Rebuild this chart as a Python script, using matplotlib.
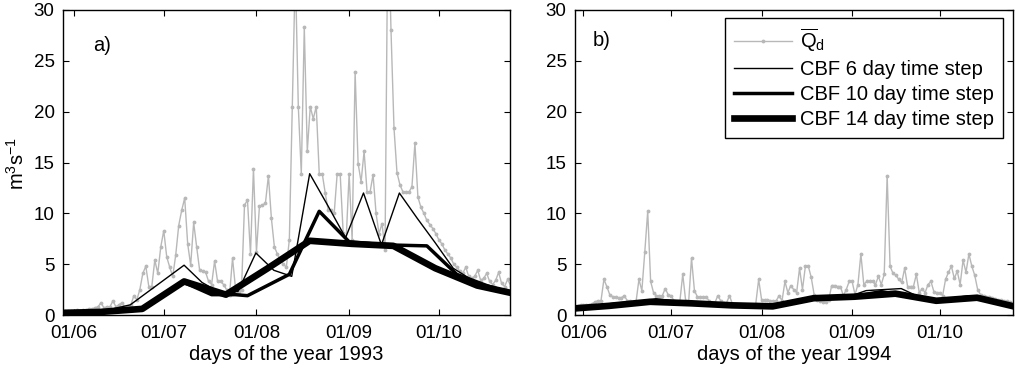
import numpy as np
import matplotlib
matplotlib.use("Agg")
import matplotlib.pyplot as plt
from matplotlib.lines import Line2D

plt.rcParams['font.family'] = ['Liberation Sans', 'DejaVu Sans']
plt.rcParams['mathtext.default'] = 'regular'

# ---------------- data ----------------
days = np.arange(149, 299)  # day of year

qd_1993 = [0.4, 0.4, 0.4, 0.4, 0.5, 0.4, 0.5, 0.5, 0.6, 0.6,
           0.7, 0.8, 1.2, 0.7, 0.8, 0.8, 1.4, 0.8, 1.0, 1.2,
           0.8, 0.8, 1.0, 1.9, 1.5, 2.5, 4.1, 4.8, 2.8, 2.8,
           5.4, 4.1, 6.7, 8.3, 5.7, 4.7, 3.8, 5.9, 8.8, 10.3,
           11.5, 7.0, 4.9, 9.1, 6.7, 4.4, 4.3, 4.2, 3.3, 3.0,
           5.3, 3.3, 3.3, 3.0, 2.5, 2.0, 5.6, 2.6, 2.3, 2.5,
           10.8, 11.3, 6.0, 14.4, 6.2, 10.7, 10.8, 11.0, 13.7, 9.5,
           6.7, 6.0, 5.4, 5.0, 4.7, 7.4, 20.5, 34.0, 20.5, 13.9,
           28.3, 16.1, 20.5, 19.3, 20.5, 13.9, 13.9, 12.0, 10.3, 10.3,
           10.0, 13.9, 13.9, 8.1, 7.4, 13.9, 7.4, 23.9, 14.9, 13.1,
           16.1, 12.1, 12.1, 13.8, 10.0, 8.0, 9.0, 6.4, 40.0, 28.0,
           18.4, 14.0, 12.8, 12.1, 12.1, 12.1, 12.6, 16.9, 11.6, 10.6,
           10.0, 9.3, 8.9, 8.5, 8.0, 7.4, 7.0, 6.4, 6.0, 5.6,
           5.0, 4.7, 4.3, 4.1, 4.7, 3.8, 3.6, 3.8, 4.4, 3.4,
           3.6, 4.1, 3.3, 3.0, 3.4, 4.2, 3.1, 2.8, 3.5, 2.9]

qd_1994 = [0.9, 0.9, 1.0, 1.0, 1.0, 1.0, 1.1, 1.3, 1.4, 1.4,
           3.5, 2.8, 2.0, 1.8, 1.8, 1.7, 1.7, 1.9, 1.4, 1.4,
           1.3, 1.3, 3.5, 2.4, 6.2, 10.2, 3.3, 2.2, 1.9, 1.9,
           1.9, 2.6, 2.0, 1.9, 1.4, 1.3, 1.3, 4.0, 1.4, 1.2,
           5.6, 2.4, 1.8, 1.8, 1.8, 1.8, 1.4, 1.2, 1.2, 1.9,
           1.4, 1.2, 1.2, 1.9, 1.1, 1.0, 1.0, 1.0, 1.0, 1.0,
           1.0, 1.0, 1.1, 3.5, 1.5, 1.5, 1.5, 1.4, 1.4, 1.4,
           1.9, 1.4, 3.3, 2.2, 2.9, 2.5, 2.2, 4.6, 2.5, 4.8,
           4.8, 3.7, 2.0, 1.5, 1.4, 1.3, 1.3, 1.5, 2.9, 2.9,
           2.8, 2.8, 1.9, 2.5, 3.3, 3.3, 2.0, 3.0, 6.0, 3.0,
           3.3, 3.3, 3.3, 3.0, 3.8, 3.0, 4.0, 13.7, 4.8, 4.1,
           3.9, 3.5, 3.2, 4.6, 2.8, 2.8, 2.8, 4.0, 2.2, 2.6,
           2.2, 3.0, 3.3, 2.3, 2.2, 2.2, 1.9, 3.5, 4.2, 4.8,
           3.6, 4.3, 3.0, 5.4, 4.2, 6.0, 4.8, 3.9, 2.5, 2.0,
           1.9, 1.8, 1.8, 1.7, 1.6, 1.5, 1.5, 1.4, 1.4, 1.3]

# CBF 6 day time step
cbf6_days = [146.8, 152.8, 158.8, 164.8, 170.8, 176.8, 182.8, 188.8, 194.8,
             200.8, 206.8, 212.8, 218.8, 224.8, 230.8, 236.8, 242.8, 248.8,
             254.8, 260.8, 266.8, 272.8, 278.8, 284.8, 290.8, 296.8, 302.8]
cbf6_1993 = [0.2, 0.3, 0.4, 0.6, 1.0, 2.3, 3.6, 4.9, 3.2,
             2.2, 2.3, 6.1, 4.4, 3.8, 13.9, 10.8, 7.6, 12.0,
             6.9, 12.0, 9.5, 7.1, 4.6, 3.5, 2.8, 2.2, 1.8]
cbf6_1994 = [0.6, 0.8, 1.0, 1.1, 1.3, 1.6, 1.4, 1.2, 1.1,
             1.0, 0.9, 0.85, 1.0, 1.5, 1.8, 1.8, 1.8, 2.4,
             2.5, 2.6, 1.8, 1.5, 1.5, 1.7, 1.4, 0.9, 0.6]

# CBF 10 day time step
cbf10_days_1993 = [146, 164, 174, 188.8, 198, 206, 210, 224, 234, 244, 256, 270, 280, 290, 300]
cbf10_1993 = [0.15, 0.3, 0.5, 3.2, 2.0, 2.0, 1.9, 4.0, 10.2, 7.2, 6.9, 6.8, 4.0, 2.9, 2.0]
cbf10_days_1994 = [144, 154, 164, 174, 184, 194, 204, 214, 224, 234, 244, 254, 264, 274, 284, 294, 304]
cbf10_1994 = [0.6, 0.8, 1.1, 1.3, 1.3, 1.1, 0.95, 0.85, 1.2, 1.75, 1.8, 2.3, 1.8, 1.4, 1.8, 1.2, 0.7]

# CBF 14 day time step
cbf14_days = [146.8, 160.8, 174.8, 188.8, 202.8, 216.8, 230.8, 244.8, 258.8, 272.8, 286.8, 300.8]
cbf14_1993 = [0.2, 0.3, 0.6, 3.3, 2.0, 4.6, 7.3, 7.0, 6.8, 4.6, 2.9, 2.0]
cbf14_1994 = [0.6, 0.9, 1.3, 1.15, 0.95, 0.85, 1.65, 1.8, 2.1, 1.4, 1.7, 0.75]

tick_days = [152, 182, 213, 244, 274]
tick_labels = ['01/06', '01/07', '01/08', '01/09', '01/10']
yticks = [0, 5, 10, 15, 20, 25, 30]

# ---------------- figure ----------------
W, H = 1019, 371
fig = plt.figure(figsize=(W / 100, H / 100), dpi=100)
ax1 = fig.add_axes([63 / W, 1 - 315 / H, (510 - 63) / W, 305 / H])
ax2 = fig.add_axes([575 / W, 1 - 315 / H, (1013 - 575) / W, 305 / H])

gray = '0.72'
fs_tick = 13.5
fs_lab = 14.5


def draw(ax, qd, c6, d10, c10, c14, year, xlim):
    ax.plot(days, qd, color=gray, lw=1.0, marker='.', ms=3.5, zorder=2)
    ax.plot(cbf14_days, c14, color='black', lw=4.8, zorder=3)
    ax.plot(d10, c10, color='black', lw=2.5, zorder=4)
    ax.plot(cbf6_days, c6, color='black', lw=1.0, zorder=5)
    ax.set_xlim(*xlim)
    ax.set_ylim(0, 30)
    ax.set_xticks(tick_days)
    ax.set_xticklabels(tick_labels)
    ax.set_yticks(yticks)
    ax.tick_params(direction='in', top=True, right=True, length=4, width=0.8,
                   labelsize=fs_tick)
    ax.tick_params(axis='x', pad=7.5)
    ax.tick_params(axis='y', pad=6)
    for s in ax.spines.values():
        s.set_linewidth(1.0)
    ax.set_xlabel('days of the year %d' % year, fontsize=fs_lab, labelpad=2)


draw(ax1, qd_1993, cbf6_1993, cbf10_days_1993, cbf10_1993, cbf14_1993, 1993, (148.3, 297.8))
draw(ax2, qd_1994, cbf6_1994, cbf10_days_1994, cbf10_1994, cbf14_1994, 1994, (149.1, 299.1))

ax1.text(0.067, 0.884, 'a)', transform=ax1.transAxes, fontsize=fs_lab, va='center', ha='left')
ax2.text(0.041, 0.900, 'b)', transform=ax2.transAxes, fontsize=fs_lab, va='center', ha='left')

fig.text(17 / W, 1 - 163 / H, 'm$^3$s$^{-1}$', rotation=90, fontsize=fs_lab,
         ha='center', va='center')

handles = [
    Line2D([], [], color=gray, lw=1.0, marker='.', ms=3.5),
    Line2D([], [], color='black', lw=1.0),
    Line2D([], [], color='black', lw=2.5),
    Line2D([], [], color='black', lw=4.8),
]
labels = [r'$\overline{Q}_d$', 'CBF 6 day time step', 'CBF 10 day time step', 'CBF 14 day time step']
leg = ax2.legend(handles, labels, loc='upper right', bbox_to_anchor=(0.978, 0.975),
                 fontsize=14.5, frameon=True, fancybox=False, framealpha=1,
                 edgecolor='black', handlelength=2.9, handletextpad=0.4,
                 labelspacing=0.3, borderpad=0.45, borderaxespad=0.0, numpoints=1)
leg.get_frame().set_linewidth(1.0)

fig.savefig('out.png', dpi=100)
